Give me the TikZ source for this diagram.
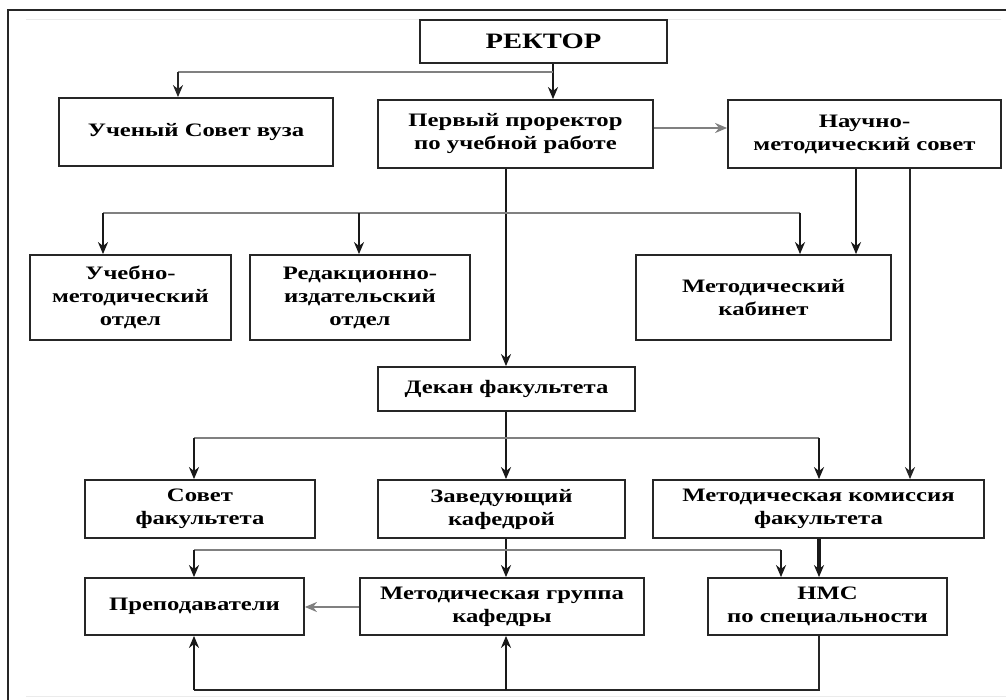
\documentclass[tikz,border=0pt]{standalone}
\usepackage{fontspec}
\setmainfont{Liberation Serif}[FakeStretch=1.3]
\usetikzlibrary{arrows.meta,calc}

% box by its corners: name, x1, y1, x2, y2, text
\newcommand\orgbox[6]{%
  \node[box, minimum width={#4-#2}, minimum height={#5-#3}]
    (#1) at ({(#2+#4)/2},{(#3+#5)/2}) {#6};}

\begin{document}
\begin{tikzpicture}[x=1pt, y=-1pt,
  box/.style={draw=black!85, line width=1.8pt, align=center, inner sep=0pt,
    font=\bfseries\fontsize{19}{23}\selectfont},
  wire/.style={line width=2.6pt, black!90},
  thin wire/.style={line width=1.9pt, black!85},
  bus/.style={line width=2.8pt, black!50},
  arr/.style={-{Stealth[length=12pt,width=10pt]}},
]
\useasboundingbox[fill=white] (0,0) rectangle (1006,700);

% outer frame
\draw[line width=2pt, black!85] (8,700) -- (8,10) -- (1006,10);
\draw[line width=1pt, black!8] (26,20) -- (1001,20);
\draw[line width=1pt, black!8] (26,696) -- (1006,696);

% boxes
\orgbox{rector}{420}{20}{667}{63}{\fontsize{22}{23}\selectfont РЕКТОР}
\orgbox{uchsov}{59}{98}{333}{166}{Ученый Совет вуза}
\orgbox{prorector}{378}{100}{653}{168}{Первый проректор\\по учебной работе}
\orgbox{nms}{728}{100}{1001}{168}{Научно-\\методический совет}
\orgbox{uchmet}{30}{255}{231}{340}{Учебно-\\методический\\отдел}
\orgbox{redizd}{250}{255}{470}{340}{Редакционно-\\издательский\\отдел}
\orgbox{metkab}{636}{255}{891}{340}{Методический\\кабинет}
\orgbox{dekan}{378}{367}{635}{411}{Декан факультета}
\orgbox{sovfak}{85}{480}{315}{538}{Совет\\факультета}
\orgbox{zav}{378}{480}{625}{538}{Заведующий\\кафедрой}
\orgbox{metkom}{653}{480}{984}{538}{Методическая комиссия\\факультета}
\orgbox{prep}{85}{578}{304}{635}{Преподаватели}
\orgbox{metgr}{360}{578}{644}{635}{Методическая группа\\кафедры}
\orgbox{nmsspec}{708}{578}{947}{635}{НМС\\по специальности}

% junction points
\coordinate (rj) at (553,72);
\coordinate (uj) at (178,72);
\coordinate (pj) at (506,213);
\coordinate (pl) at (103,213);
\coordinate (pm) at (359,213);
\coordinate (pr) at (800,213);
\coordinate (dj) at (506,438);
\coordinate (dl) at (194,438);
\coordinate (dr) at (819,438);
\coordinate (zj) at (506,550);
\coordinate (zl) at (194,550);
\coordinate (zr) at (781,550);
\coordinate (bj) at (819,690);
\coordinate (bm) at (506,690);
\coordinate (bl) at (194,690);

% rector
\draw[wire, arr] (rector.south -| rj) -- (prorector.north -| rj);
\draw[bus] (rj) -- (uj);
\draw[thin wire, arr] (uj) -- (uchsov.north -| uj);

% first vice-rector
\draw[bus, arr] (prorector.east |- 0,128) -- (nms.west |- 0,128);
\draw[wire, arr] (prorector.south -| pj) -- (dekan.north -| pj);
\draw[bus] (pl) -- (pr);
\draw[wire, arr] (pl) -- (uchmet.north -| pl);
\draw[wire, arr] (pm) -- (redizd.north -| pm);
\draw[wire, arr] (pr) -- (metkab.north -| pr);

% scientific-methodical council
\draw[wire, arr] (nms.south -| 856,0) -- (metkab.north -| 856,0);
\draw[thin wire, arr] (nms.south -| 910,0) -- (metkom.north -| 910,0);

% dean
\draw[wire, arr] (dekan.south -| dj) -- (zav.north -| dj);
\draw[bus] (dl) -- (dr);
\draw[wire, arr] (dl) -- (sovfak.north -| dl);
\draw[wire, arr] (dr) -- (metkom.north -| dr);

% head of department
\draw[wire, arr] (zav.south -| zj) -- (metgr.north -| zj);
\draw[bus] (zl) -- (zr);
\draw[wire, arr] (zl) -- (prep.north -| zl);
\draw[wire, arr] (zr) -- (nmsspec.north -| zr);
\draw[line width=3.2pt, black!90, arr] (metkom.south -| 819,0) -- (nmsspec.north -| 819,0);

% methodical group to teachers
\draw[bus, arr] (metgr.west |- 0,607) -- (prep.east |- 0,607);

% feedback along the bottom
\draw[thin wire] (nmsspec.south -| bj) -- (bj) -- (bl);
\draw[wire, arr] (bl) -- (prep.south -| bl);
\draw[wire, arr] (bm) -- (metgr.south -| bm);
\end{tikzpicture}
\end{document}
